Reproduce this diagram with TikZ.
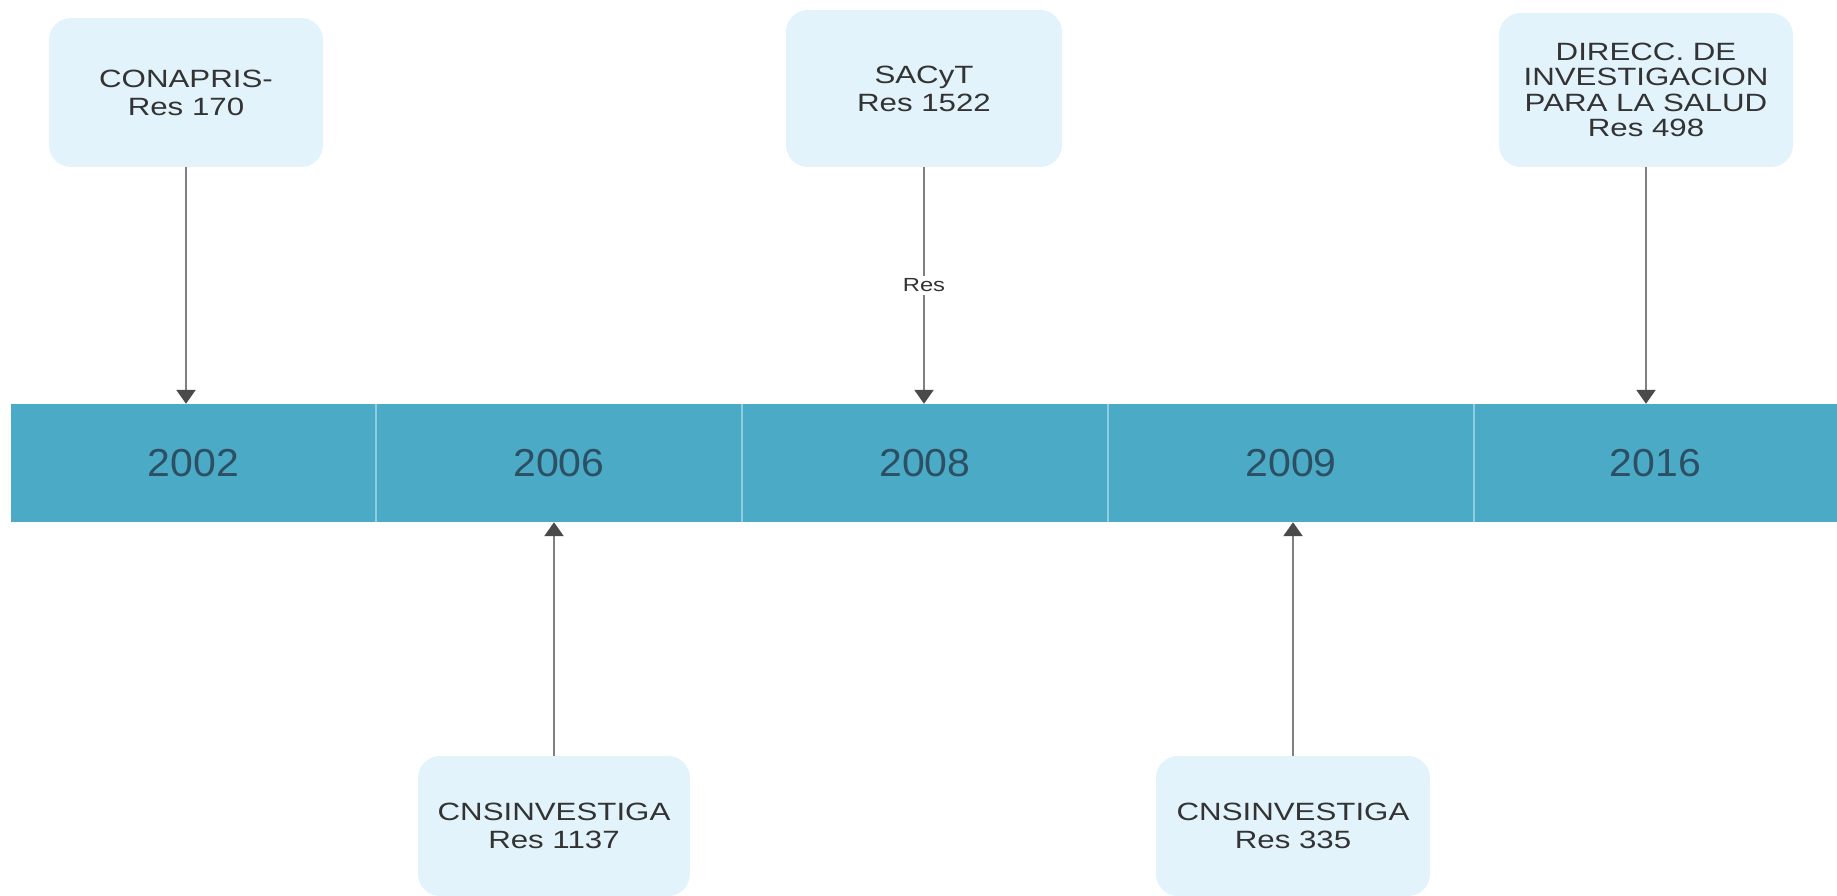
\documentclass[tikz,border=0pt]{standalone}
\usepackage{fontspec}
\setmainfont{Liberation Sans}
\newfontfamily\boxfont{Liberation Sans}[FakeStretch=1.25]
\newfontfamily\yearfont{Liberation Sans}[FakeStretch=1.05]
\usetikzlibrary{arrows.meta}
\definecolor{boxfill}{HTML}{E2F3FB}
\definecolor{barfill}{HTML}{4BAAC6}
\definecolor{divider}{HTML}{8FCDE0}
\definecolor{yeartext}{HTML}{2D4F63}
\definecolor{boxtext}{HTML}{333333}
\definecolor{linegray}{HTML}{808080}
\definecolor{tipdark}{HTML}{4A4A4A}
\tikzset{
  evbox/.style={fill=boxfill, rounded corners=22pt, inner sep=0pt, align=center,
    text=boxtext, font=\boxfont\fontsize{25}{28}\selectfont},
  seg/.style={fill=barfill, inner sep=0pt, minimum height=118pt, text=yeartext,
    font=\yearfont\fontsize{39}{44}\selectfont},
  arr/.style={draw=linegray, line width=2.5pt,
    -{Triangle[width=19pt,length=14pt,color=tipdark]}},
  reslabel/.style={fill=white, inner sep=3pt, text=boxtext,
    font=\boxfont\fontsize{19}{22}\selectfont}
}
\begin{document}
\begin{tikzpicture}[x=1pt,y=-1pt]
\useasboundingbox (0,0) rectangle (1837,896);
% timeline segments
\node[seg, minimum width=365pt] (y2002) at (193.5,463) {2002};
\node[seg, minimum width=366pt] (y2006) at (559,463) {2006};
\node[seg, minimum width=366pt] (y2008) at (925,463) {2008};
\node[seg, minimum width=366pt] (y2009) at (1291,463) {2009};
\node[seg, minimum width=363pt] (y2016) at (1655.5,463) {2016};
\draw[divider, line width=2pt] (y2002.north east) -- (y2002.south east);
\draw[divider, line width=2pt] (y2006.north east) -- (y2006.south east);
\draw[divider, line width=2pt] (y2008.north east) -- (y2008.south east);
\draw[divider, line width=2pt] (y2009.north east) -- (y2009.south east);
% event boxes
\node[evbox, minimum width=274pt, minimum height=149pt] (b1) at (186,92.5) {CONAPRIS-\\Res 170};
\node[evbox, minimum width=276pt, minimum height=157pt] (b2) at (924,88.5) {SACyT\\Res 1522};
\node[evbox, minimum width=294pt, minimum height=154pt, font=\boxfont\fontsize{25}{25.5}\selectfont] (b3) at (1646,90) {DIRECC. DE\\INVESTIGACION\\PARA LA SALUD\\Res 498};
\node[evbox, minimum width=272pt, minimum height=140pt] (b4) at (554,826) {CNSINVESTIGA\\Res 1137};
\node[evbox, minimum width=274pt, minimum height=140pt] (b5) at (1293,826) {CNSINVESTIGA\\Res 335};
% connectors
\draw[arr] (b1.south) -- (b1.south |- y2002.north);
\draw[arr] (b2.south) -- node[reslabel] (lres) {Res} (b2.south |- y2008.north);
\draw[arr] (b3.south) -- (b3.south |- y2016.north);
\draw[arr] (b4.north) -- (b4.north |- y2006.south);
\draw[arr] (b5.north) -- (b5.north |- y2009.south);
\end{tikzpicture}
\end{document}
